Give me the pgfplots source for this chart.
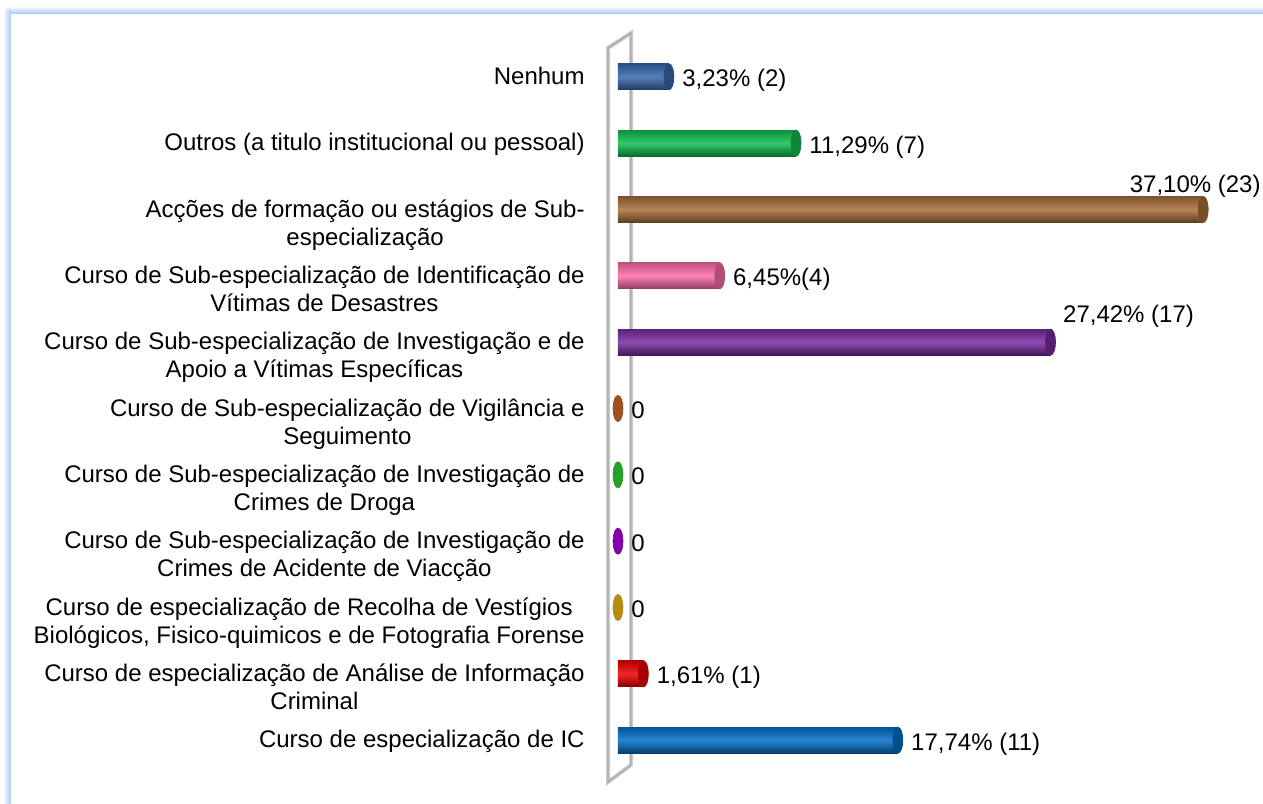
\documentclass[border=0pt]{standalone}
\usepackage{pgfplots}
\pgfplotsset{compat=1.18}
\usetikzlibrary{backgrounds}
\usepackage{fontspec}
\setmainfont{Liberation Sans}

\definecolor{frameblue}{RGB}{165,200,245}
\definecolor{wallgray}{RGB}{170,170,170}
\definecolor{cNenhum}{RGB}{56,106,178}
\definecolor{cOutros}{RGB}{16,192,80}
\definecolor{cAccoes}{RGB}{168,112,58}
\definecolor{cIdent}{RGB}{255,110,168}
\definecolor{cApoio}{RGB}{122,43,163}
\definecolor{cVigil}{RGB}{160,80,30}
\definecolor{cDroga}{RGB}{40,160,40}
\definecolor{cAcid}{RGB}{130,0,170}
\definecolor{cRecolha}{RGB}{180,140,20}
\definecolor{cAnalise}{RGB}{240,0,0}
\definecolor{cIC}{RGB}{0,112,200}

\newcommand{\tl}[1]{\begin{tabular}[t]{@{}c@{}}#1\end{tabular}}

\pgfplotsset{
  cyl/.style={xbar, bar width=13pt, bar shift=0pt, draw=none,
    top color=#1!75!black, bottom color=#1!55!black, middle color=#1!85!white,
    mark=*, mark size=6.5pt, mark options={xscale=0.38, fill=#1!70!black, draw=#1!70!black},
    nodes near coords, point meta=explicit symbolic},
  dot/.style={only marks, mark=*, mark size=6.5pt,
    mark options={xscale=0.38, fill=#1, draw=#1},
    nodes near coords, point meta=explicit symbolic},
  right lbl/.style={every node near coord/.append style={anchor=base west, xshift=6.5pt, yshift=-5pt}},
}

\begin{document}
\begin{tikzpicture}[x=0.5pt,y=0.5pt]
\begin{axis}[name=ax, scale only axis,
  width=315.5pt, height=371.5pt,
  xmin=0, xmax=40, ymin=-0.6, ymax=10.6,
  axis line style={draw=none}, clip=false,
  xtick=\empty, ytick={0,...,10}, major tick length=0pt,
  yticklabels={
    \tl{Curso de especialização de IC},
    \tl{Curso de especialização de Análise de Informação\\Criminal},
    \tl{Curso de especialização de Recolha de Vestígios\\Biológicos, Fisico-quimicos e de Fotografia Forense},
    \tl{Curso de Sub-especialização de Investigação de\\Crimes de Acidente de Viacção},
    \tl{Curso de Sub-especialização de Investigação de\\Crimes de Droga},
    \tl{Curso de Sub-especialização de Vigilância e\\Seguimento},
    \tl{Curso de Sub-especialização de Investigação e de\\Apoio a Vítimas Específicas},
    \tl{Curso de Sub-especialização de Identificação de\\Vítimas de Desastres},
    \tl{Acções de formação ou estágios de Sub-\\especialização},
    \tl{Outros (a titulo institucional ou pessoal)},
    \tl{Nenhum}},
  yticklabel style={anchor=base east, inner sep=0pt, xshift=-16.5pt, yshift=-3.8pt,
    font=\fontsize{12}{14}\selectfont},
  every node near coord/.append style={inner sep=0pt, font=\fontsize{12}{14}\selectfont, text=black},
]
\addplot[cyl=cIC, right lbl] coordinates {(17.74,0) [{17,74\% (11)}]};
\addplot[cyl=cAnalise, right lbl] coordinates {(1.61,1) [{1,61\% (1)}]};
\addplot[dot=cRecolha, right lbl] coordinates {(0,2) [0]};
\addplot[dot=cAcid, right lbl] coordinates {(0,3) [0]};
\addplot[dot=cDroga, right lbl] coordinates {(0,4) [0]};
\addplot[dot=cVigil, right lbl] coordinates {(0,5) [0]};
\addplot[cyl=cApoio, every node near coord/.append style={anchor=base, xshift=39pt, yshift=10pt}]
  coordinates {(27.42,6) [{27,42\% (17)}]};
\addplot[cyl=cIdent, right lbl] coordinates {(6.45,7) [{6,45\%(4)}]};
\addplot[cyl=cAccoes, every node near coord/.append style={anchor=base, xshift=-4pt, yshift=8.5pt}]
  coordinates {(37.10,8) [{37,10\% (23)}]};
\addplot[cyl=cOutros, right lbl] coordinates {(11.29,9) [{11,29\% (7)}]};
\addplot[cyl=cNenhum, right lbl] coordinates {(3.23,10) [{3,23\% (2)}]};
\end{axis}
\begin{scope}[shift={(ax.south west)}, xshift=-309pt, yshift=-11.5pt]
\path (0,0) rectangle (1263,803);
% frame
\shade[top color=white, bottom color=frameblue] (6,789) rectangle (1263,797);
\shade[left color=white, right color=frameblue] (3,0) rectangle (11,792);
\end{scope}
\begin{scope}[on background layer, shift={(ax.south west)}, xshift=-309pt, yshift=-11.5pt]
% wall
\fill[white] (608,755) -- (631,770) -- (631,38) -- (608,21) -- cycle;
\draw[wallgray!60, line width=2pt] (608,755) -- (631,770) -- (631,38) -- (608,21) -- cycle;
\draw[wallgray, line width=0.7pt] (608,755) -- (631,770) -- (631,38) -- (608,21) -- cycle;
\end{scope}
\end{tikzpicture}
\end{document}
